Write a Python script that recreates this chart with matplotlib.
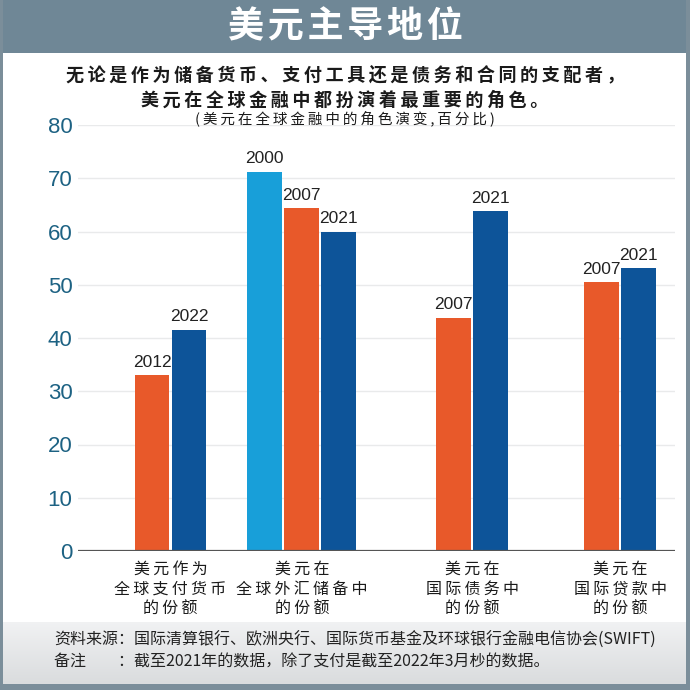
import matplotlib
matplotlib.use("Agg")
import matplotlib.pyplot as plt
from matplotlib.patches import Rectangle
from matplotlib.colors import LinearSegmentedColormap
import numpy as np

# ---------------- data ----------------
title = "美元主导地位"
subtitle_line1 = "无论是作为储备货币、支付工具还是债务和合同的支配者，"
subtitle_line2 = "美元在全球金融中都扮演着最重要的角色。"
unit_note = "(美元在全球金融中的角色演变,百分比)"

categories = [
    "美元作为\n全球支付货币\n的份额",
    "美元在\n全球外汇储备中\n的份额",
    "美元在\n国际债务中\n的份额",
    "美元在\n国际贷款中\n的份额",
]

payments_years = ["2012", "2022"]
payments_values = [33.0, 41.5]
reserves_years = ["2000", "2007", "2021"]
reserves_values = [71.2, 64.4, 59.9]
debt_years = ["2007", "2021"]
debt_values = [43.8, 63.8]
loans_years = ["2007", "2021"]
loans_values = [50.5, 53.1]

yticks = [0, 10, 20, 30, 40, 50, 60, 70, 80]

source_text = "资料来源：国际清算银行、欧洲央行、国际货币基金及环球银行金融电信协会(SWIFT)"
note_text = "备注　　：截至2021年的数据，除了支付是截至2022年3月杪的数据。"

# ---------------- styles ----------------
LIGHT_BLUE = "#189fd9"
ORANGE = "#e8592a"
DARK_BLUE = "#0d5499"
year_colors = {"2000": LIGHT_BLUE, "2007": ORANGE, "2012": ORANGE,
               "2021": DARK_BLUE, "2022": DARK_BLUE}

CJK = ["Noto Sans CJK SC", "DejaVu Sans"]
LATIN = ["Liberation Sans", "DejaVu Sans"]


def spaced(s, sep="\u2009"):
    return "\n".join(sep.join(line) for line in s.split("\n"))


W = H = 690
fig = plt.figure(figsize=(6.9, 6.9), dpi=100, facecolor="white")


def fx(px):
    return px / W


def fy(py):
    return 1 - py / H


# frame + title bar
FRAME = "#7b8e9a"
fig.patches.append(Rectangle((0, fy(53)), 1, 53 / H, transform=fig.transFigure,
                             facecolor="#6f8796", edgecolor="none", zorder=0))
for r in [(0, 0, 3 / W, 1), (fx(686), 0, 4 / W, 1), (0, 0, 1, 6 / H)]:
    fig.patches.append(Rectangle(r[:2], r[2], r[3], transform=fig.transFigure,
                                 facecolor=FRAME, edgecolor="none", zorder=0))

# footer gradient box
fax = fig.add_axes([fx(3), fy(684), 683 / W, (684 - 622) / H], zorder=-1)
grad = np.linspace(0, 1, 64).reshape(-1, 1)
cmap = LinearSegmentedColormap.from_list("g", ["#f1f2f3", "#dadcde"])
fax.imshow(grad, aspect="auto", cmap=cmap, extent=[0, 1, 1, 0])
fax.set_axis_off()

fig.text(0.5, fy(27), spaced(title, "\u200a"), ha="center", va="center",
         color="white", fontsize=26, fontweight="bold", family=CJK)
fig.text(0.5, fy(75), spaced(subtitle_line1), ha="center", va="center",
         color="#1a1a1a", fontsize=13, fontweight="bold", family=CJK)
fig.text(0.5, fy(100), spaced(subtitle_line2), ha="center", va="center",
         color="#1a1a1a", fontsize=13, fontweight="bold", family=CJK)
fig.text(0.5, fy(118), spaced(unit_note), ha="center", va="center",
         color="#1a1a1a", fontsize=10.5, family=CJK)

# ---------------- axes ----------------
ax = fig.add_axes([fx(78), fy(551), (675 - 78) / W, (551 - 125) / H])
ax.set_facecolor("none")
step = 1.0
bar_w = 0.94
group_centers = [2.5, 6.05, 10.65, 14.65]
groups = [(payments_years, payments_values), (reserves_years, reserves_values),
          (debt_years, debt_values), (loans_years, loans_values)]

for gc, (yrs, vals) in zip(group_centers, groups):
    n = len(vals)
    xs = [gc + (i - (n - 1) / 2) * step for i in range(n)]
    ax.bar(xs, vals, width=bar_w, color=[year_colors[y] for y in yrs], zorder=3)
    for x, v, y in zip(xs, vals, yrs):
        ax.annotate(y, (x, v), xytext=(0, 4), textcoords="offset points",
                    ha="center", va="bottom", fontsize=12.5, color="#222222",
                    family=LATIN)

ax.set_xlim(0, 597 / 37)
ax.set_ylim(0, 80)
ax.set_yticks(yticks)
ax.set_yticklabels([str(t) for t in yticks], fontsize=16, color="#1d6283",
                   family=LATIN)
ax.yaxis.grid(True, color="#e9eaeb", lw=1, zorder=0)
ax.set_axisbelow(True)
ax.axhline(0, color="#555555", lw=1.6, zorder=4)
for s in ax.spines.values():
    s.set_visible(False)
ax.tick_params(axis="y", length=0, pad=4)
ax.set_xticks(group_centers)
ax.set_xticklabels([spaced(c) for c in categories], fontsize=11.5,
                   color="#1a1a1a", family=CJK, linespacing=1.22)
ax.tick_params(axis="x", length=0, pad=7)

# ---------------- footer ----------------
fig.text(fx(54), fy(640), source_text, ha="left", va="center", fontsize=11.5,
         color="#222222", family=CJK)
fig.text(fx(54), fy(662), note_text, ha="left", va="center", fontsize=11.5,
         color="#222222", family=CJK)

fig.savefig("out.png", dpi=100, facecolor="white")
